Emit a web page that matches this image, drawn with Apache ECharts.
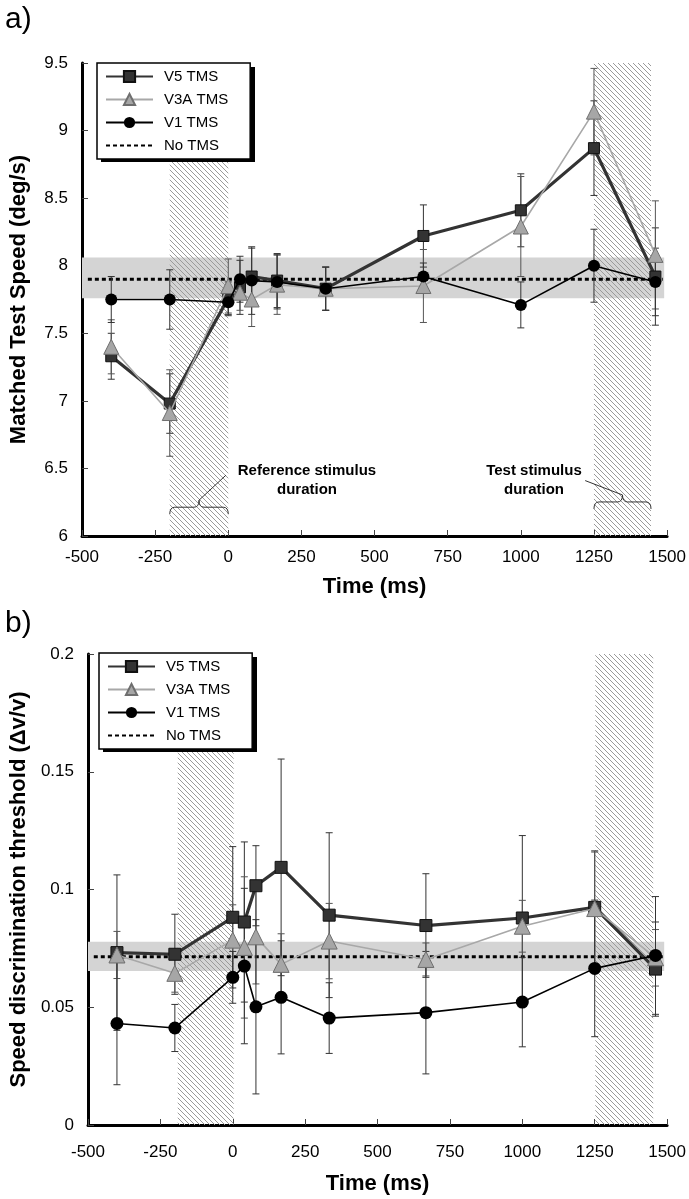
<!DOCTYPE html>
<html><head><meta charset="utf-8">
<script src="https://cdn.jsdelivr.net/npm/echarts@6/dist/echarts.min.js"></script>
<style>html,body{margin:0;padding:0;background:#fff;}#c{width:689px;height:1199px;}</style>
</head><body><div id="c"></div>
<script>
// ---------- data ----------
const times = [-400, -200, 0, 40, 80, 167, 333, 667, 1000, 1250, 1460];
const seriesNames = ['V5 TMS', 'V3A TMS', 'V1 TMS', 'No TMS'];
// panel a: matched test speed (deg/s)
const aV5     = [7.33, 6.98, 7.76, 7.84, 7.92, 7.89, 7.83, 8.22, 8.41, 8.87, 7.92];
const aV5err  = [0.17, 0.22, 0.12, 0.20, 0.21, 0.20, 0.16, 0.23, 0.27, 0.35, 0.36];
const aV3A    = [7.40, 6.91, 7.85, 7.80, 7.75, 7.86, 7.83, 7.85, 8.29, 9.14, 8.08];
const aV3Aerr = [0.20, 0.32, 0.20, 0.13, 0.20, 0.22, 0.16, 0.27, 0.37, 0.32, 0.40];
const aV1     = [7.75, 7.75, 7.73, 7.90, 7.89, 7.88, 7.83, 7.92, 7.71, 8.00, 7.88];
const aV1err  = [0.17, 0.22, 0.10, 0.17, 0.25, 0.20, 0.16, 0.10, 0.17, 0.27, 0.25];
const aNoTMS = 7.90;
const aNoTMSband = [7.76, 8.06];
const aStimuli = [[-200, 0], [1250, 1445]];
// panel b: speed discrimination threshold
const bV5     = [0.0732, 0.0725, 0.0882, 0.0862, 0.1016, 0.1094, 0.0891, 0.0847, 0.0879, 0.0924, 0.0662];
const bV5err  = [0.033, 0.017, 0.030, 0.034, 0.017, 0.046, 0.035, 0.022, 0.035, 0.024, 0.020];
const bV3A    = [0.0722, 0.0644, 0.0785, 0.0754, 0.0799, 0.0682, 0.0781, 0.0703, 0.0844, 0.0919, 0.0710];
const bV3Aerr = [0.010, 0.008, 0.015, 0.030, 0.020, 0.013, 0.016, 0.007, 0.011, 0.024, 0.012];
const bV1     = [0.0431, 0.0412, 0.0627, 0.0675, 0.0502, 0.0542, 0.0454, 0.0477, 0.0522, 0.0665, 0.0720];
const bV1err  = [0.026, 0.010, 0.011, 0.033, 0.037, 0.024, 0.015, 0.026, 0.019, 0.029, 0.025];
const bNoTMS = 0.0714;
const bNoTMSband = [0.0654, 0.0778];
const bStimuli = [[-190, 3], [1252, 1452]];
const xTicks = {min: -500, max: 1500, interval: 250};
const aYTicks = {min: 6, max: 9.5, interval: 0.5};
const bYTicks = {min: 0, max: 0.2, interval: 0.05};
// annotation for panel a (braces under the stimulus bands)
const braces = [
  {x1: -200, x2: 0,    y: 6.213, lead: [-8, 6.45],   text: 'Reference stimulus\nduration', tx: 269,  ty: 6.415},
  {x1: 1250, x2: 1445, y: 6.252, lead: [1220, 6.41], text: 'Test stimulus\nduration',      tx: 1045, ty: 6.413}
];

// ---------- helpers ----------
const FONT = '"Liberation Sans", Arial, sans-serif';
function hatchCanvas() {
  const n = 5;
  const c = document.createElement('canvas');
  c.width = n; c.height = n;
  const g = c.getContext('2d');
  g.strokeStyle = '#9a9a9a'; g.lineWidth = 1;
  g.beginPath();
  g.moveTo(0, 0); g.lineTo(n, n);
  g.moveTo(-n, 0); g.lineTo(n, 2 * n);
  g.moveTo(0, -n); g.lineTo(2 * n, n);
  g.stroke();
  return c;
}
const HATCH = hatchCanvas();

function bandSeries(idx, stimuli, band, ymin, ymax) {
  const data = [['band', -500, 1490, band[0], band[1]]];
  stimuli.forEach(s => data.push(['hatch', s[0], s[1], ymin, ymax]));
  return {
    type: 'custom', xAxisIndex: idx, yAxisIndex: idx, z: 1, silent: true,
    data: data.map(d => d.slice(1)),
    encode: {x: [0, 1], y: [2, 3]},
    renderItem: function (params, api) {
      const kind = data[params.dataIndex][0];
      const p1 = api.coord([api.value(0), api.value(3)]);
      const p2 = api.coord([api.value(1), api.value(2)]);
      return {
        type: 'rect', z2: kind === 'band' ? 0 : 1,
        shape: {x: p1[0], y: p1[1], width: p2[0] - p1[0], height: p2[1] - p1[1]},
        style: {fill: kind === 'band' ? '#d4d4d4' : {image: HATCH, repeat: 'repeat'}}
      };
    }
  };
}

function errSeries(idx, vals, errs, color) {
  return {
    type: 'custom', xAxisIndex: idx, yAxisIndex: idx, z: 3, silent: true,
    data: times.map((t, i) => [t, vals[i] - errs[i], vals[i] + errs[i]]),
    encode: {x: 0, y: [1, 2]},
    renderItem: function (params, api) {
      const x = api.value(0);
      const lo = api.coord([x, api.value(1)]);
      const hi = api.coord([x, api.value(2)]);
      const w = 3.5, st = {stroke: color, lineWidth: 1};
      return {type: 'group', children: [
        {type: 'line', shape: {x1: lo[0], y1: lo[1], x2: hi[0], y2: hi[1]}, style: st},
        {type: 'line', shape: {x1: lo[0] - w, y1: lo[1], x2: lo[0] + w, y2: lo[1]}, style: st},
        {type: 'line', shape: {x1: hi[0] - w, y1: hi[1], x2: hi[0] + w, y2: hi[1]}, style: st}
      ]};
    }
  };
}

function lineSeries(idx, name, vals, kind, big) {
  const s = big ? 1 : 0;
  const base = {
    name: name, type: 'line', xAxisIndex: idx, yAxisIndex: idx,
    data: times.map((t, i) => [t, vals[i]]),
    showAllSymbol: true, animation: false
  };
  if (kind === 'V5') return Object.assign(base, {
    z: 4, symbol: 'rect', symbolSize: 11 + s,
    lineStyle: {color: '#333', width: 3.2},
    itemStyle: {color: '#333', borderColor: '#111', borderWidth: 1}
  });
  if (kind === 'V3A') return Object.assign(base, {
    z: 5, symbol: 'triangle', symbolSize: 15 + s,
    lineStyle: {color: '#a8a8a8', width: 1.6},
    itemStyle: {color: '#a6a6a6', borderColor: '#6e6e6e', borderWidth: 1}
  });
  return Object.assign(base, {
    z: 6, symbol: 'circle', symbolSize: 12 + s,
    lineStyle: {color: '#000', width: 1.6},
    itemStyle: {color: '#000'}
  });
}

function noTmsSeries(idx, v) {
  return {
    name: 'No TMS', type: 'line', xAxisIndex: idx, yAxisIndex: idx, z: 2,
    data: [[-480, v], [1485, v]], symbol: 'none',
    lineStyle: {color: '#000', width: 3, type: [4, 3]},
    itemStyle: {color: '#000', opacity: 0}
  };
}

function braceSeries() {
  return {
    type: 'custom', xAxisIndex: 0, yAxisIndex: 0, z: 7, silent: true,
    data: braces.map(b => [b.x1, b.x2, b.y]),
    encode: {x: [0, 1], y: 2},
    renderItem: function (params, api) {
      const b = braces[params.dataIndex];
      const a = api.coord([b.x1, b.y]);
      const c = api.coord([b.x2, b.y]);
      const y = a[1], x1 = a[0], x2 = c[0], xm = (x1 + x2) / 2;
      const path = 'M' + x1 + ',' + (y + 7) + ' Q' + x1 + ',' + y + ' ' + (x1 + 5) + ',' + y +
        ' L' + (xm - 5) + ',' + y + ' Q' + xm + ',' + y + ' ' + xm + ',' + (y - 7) +
        ' Q' + xm + ',' + y + ' ' + (xm + 5) + ',' + y +
        ' L' + (x2 - 5) + ',' + y + ' Q' + x2 + ',' + y + ' ' + x2 + ',' + (y + 7);
      const lead = api.coord(b.lead);
      const tp = api.coord([b.tx, b.ty]);
      return {type: 'group', children: [
        {type: 'path', shape: {pathData: path}, style: {stroke: '#333', lineWidth: 1, fill: null}},
        {type: 'line', shape: {x1: xm, y1: y - 7, x2: lead[0], y2: lead[1]}, style: {stroke: '#333', lineWidth: 1}},
        {type: 'text', x: tp[0], y: tp[1], style: {text: b.text, font: 'bold 15px ' + FONT,
          fill: '#000', align: 'center', verticalAlign: 'middle', lineHeight: 19}}
      ]};
    }
  };
}

function xAxis(idx, labelMargin, nameGap) {
  return {
    type: 'value', gridIndex: idx, min: xTicks.min, max: xTicks.max, interval: xTicks.interval,
    name: 'Time (ms)', nameLocation: 'middle', nameGap: nameGap,
    nameTextStyle: {fontFamily: FONT, fontWeight: 'bold', fontSize: 22, color: '#000'},
    axisLine: {onZero: false, lineStyle: {color: '#000', width: 3}},
    axisTick: {inside: true, length: 6, lineStyle: {color: '#444', width: 1}},
    axisLabel: {fontFamily: FONT, fontSize: 17, color: '#000', margin: labelMargin,
      formatter: v => String(v)},
    splitLine: {show: false}
  };
}
function yAxis(idx, t, name, nameGap) {
  return {
    type: 'value', gridIndex: idx, min: t.min, max: t.max, interval: t.interval,
    name: name, nameLocation: 'middle', nameGap: nameGap, nameRotate: 90,
    nameTextStyle: {fontFamily: FONT, fontWeight: 'bold', fontSize: 22, color: '#000'},
    axisLine: {show: true, onZero: false, lineStyle: {color: '#000', width: 3}},
    axisTick: {show: true, inside: true, length: 6, lineStyle: {color: '#444', width: 1}},
    axisLabel: {fontFamily: FONT, fontSize: 17, color: '#000', margin: 14,
      formatter: v => String(v)},
    splitLine: {show: false}
  };
}
function legend(left, top) {
  return {
    orient: 'vertical', left: left, top: top,
    data: seriesNames,
    itemWidth: 47, itemHeight: 14, itemGap: 8,
    padding: [6, 22, 6, 8],
    backgroundColor: '#fff', borderColor: '#000', borderWidth: 1.5,
    textStyle: {fontFamily: FONT, fontSize: 15, color: '#000', padding: [0, 0, 0, 6]},
    selectedMode: false, z: 20
  };
}
// legend drop shadows (drawn behind the legend boxes)
const legendShadows = [
  {left: 101, top: 67, width: 154, height: 95},
  {left: 103, top: 657, width: 154, height: 95}
];

const chart = echarts.init(document.getElementById('c'), null, {renderer: 'canvas'});
chart.setOption({
  animation: false,
  backgroundColor: '#fff',
  title: [
    {text: 'a)', left: 0, top: 0, textStyle: {fontFamily: FONT, fontWeight: 'normal', fontSize: 30, color: '#000'}},
    {text: 'b)', left: 0, top: 604, textStyle: {fontFamily: FONT, fontWeight: 'normal', fontSize: 30, color: '#000'}}
  ],
  graphic: legendShadows.map(r => ({
    type: 'rect', left: r.left, top: r.top, z: 15, silent: true,
    shape: {width: r.width, height: r.height}, style: {fill: '#000'}
  })),
  grid: [
    {left: 78, top: 63, width: 593, height: 473},
    {left: 82, top: 654, width: 590, height: 471}
  ],
  xAxis: [xAxis(0, 13, 40), xAxis(1, 19, 48)],
  yAxis: [
    yAxis(0, aYTicks, 'Matched Test Speed (deg/s)', 52),
    yAxis(1, bYTicks, 'Speed discrimination threshold (\u0394v/v)', 56)
  ],
  legend: [legend(97, 63), legend(99, 653)],
  series: [
    bandSeries(0, aStimuli, aNoTMSband, aYTicks.min, aYTicks.max),
    noTmsSeries(0, aNoTMS),
    errSeries(0, aV5, aV5err, '#333'),
    errSeries(0, aV3A, aV3Aerr, '#555'),
    errSeries(0, aV1, aV1err, '#333'),
    lineSeries(0, 'V5 TMS', aV5, 'V5', false),
    lineSeries(0, 'V3A TMS', aV3A, 'V3A', false),
    lineSeries(0, 'V1 TMS', aV1, 'V1', false),
    braceSeries(),
    bandSeries(1, bStimuli, bNoTMSband, bYTicks.min, bYTicks.max),
    noTmsSeries(1, bNoTMS),
    errSeries(1, bV5, bV5err, '#333'),
    errSeries(1, bV3A, bV3Aerr, '#555'),
    errSeries(1, bV1, bV1err, '#333'),
    lineSeries(1, 'V5 TMS', bV5, 'V5', true),
    lineSeries(1, 'V3A TMS', bV3A, 'V3A', true),
    lineSeries(1, 'V1 TMS', bV1, 'V1', true)
  ]
});
</script></body></html>
